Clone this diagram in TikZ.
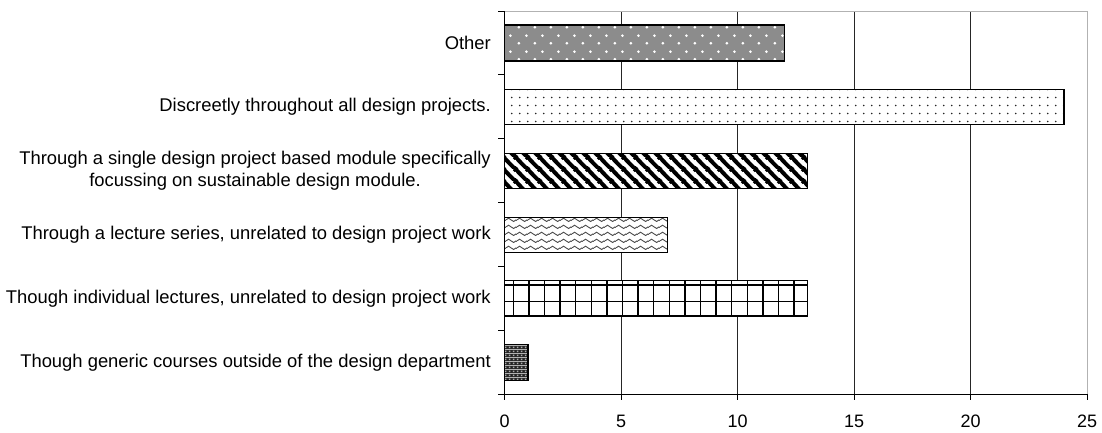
\documentclass[tikz,border=0pt]{standalone}
\usepackage{fontspec}
\setmainfont{Liberation Sans}
\usetikzlibrary{patterns.meta}

\tikzdeclarepattern{
  name=whitedots, type=colored,
  bottom left={(0pt,0pt)}, top right={(15.6pt,15.4pt)}, tile size={(15.6pt,15.4pt)},
  code={\fill[white] (3.9pt,3.85pt) circle (1.5pt); \fill[white] (11.7pt,11.55pt) circle (1.5pt);}
}
\tikzdeclarepattern{
  name=sparsedots, type=colored,
  bottom left={(0pt,0pt)}, top right={(8.2pt,7.5pt)}, tile size={(8.2pt,7.5pt)},
  code={\fill[black!85] (4.1pt,3.75pt) circle (0.95pt);}
}
\tikzdeclarepattern{
  name=diagstripes, type=colored,
  bottom left={(0pt,0pt)}, top right={(12pt,12pt)}, tile size={(12pt,12pt)},
  code={\draw[black, line width=4.2pt] (-1pt,13pt) -- (13pt,-1pt) (-1pt,1pt) -- (1pt,-1pt) (11pt,13pt) -- (13pt,11pt);}
}
\tikzdeclarepattern{
  name=waves, type=colored,
  bottom left={(0pt,0pt)}, top right={(11pt,7pt)}, tile size={(11pt,7pt)},
  code={\draw[black!70, line width=1pt] (0pt,3.5pt) sin (2.75pt,5.3pt) cos (5.5pt,3.5pt) sin (8.25pt,1.7pt) cos (11pt,3.5pt);}
}
\tikzdeclarepattern{
  name=darkgrid, type=colored,
  bottom left={(0pt,0pt)}, top right={(4pt,4pt)}, tile size={(4pt,4pt)},
  code={\fill[black!85] (0pt,0pt) rectangle (4pt,4pt); \fill[gray!65] (1pt,1pt) rectangle (3pt,3pt);}
}

\begin{document}
\begin{tikzpicture}[x=1pt,y=-1pt,
  lab/.style={font=\fontsize{18.4}{22}\selectfont, align=center, anchor=east, inner sep=0pt},
  tl/.style={font=\fontsize{18}{22}\selectfont, anchor=center, inner sep=0pt},
  bar/.style={draw=black, line width=1.3pt},
  grid/.style={draw=black!85, line width=0.8pt},
  frame/.style={draw=gray!60, line width=1pt},
  axis/.style={draw=black, line width=1pt}]
\useasboundingbox (0,0) rectangle (1102,432);

% grid lines and frame
\foreach \gx in {621.2,737.7,854.2,970.7} \draw[grid] (\gx,11) -- (\gx,394.3);
\draw[frame] (504.7,11) -- (1087.2,11) -- (1087.2,394.3);

% bars
\fill[black!45] (504.7,25) rectangle (784.3,61);
\fill[pattern=whitedots] (504.7,25) rectangle (784.3,61);
\draw[bar] (504.7,25) rectangle (784.3,61);

\fill[white] (504.7,89.3) rectangle (1063.9,124.3);
\fill[pattern=sparsedots] (504.7,89.3) rectangle (1063.9,124.3);
\draw[bar] (504.7,89.3) rectangle (1063.9,124.3);

\fill[white] (504.7,153.3) rectangle (807.6,188.7);
\fill[pattern=diagstripes] (504.7,153.3) rectangle (807.6,188.7);
\draw[bar] (504.7,153.3) rectangle (807.6,188.7);

\fill[white] (504.7,217.3) rectangle (667.8,252.3);
\fill[pattern=waves] (504.7,217.3) rectangle (667.8,252.3);
\draw[bar] (504.7,217.3) rectangle (667.8,252.3);

\begin{scope}
\clip (504.7,280.7) rectangle (807.6,316);
\fill[white] (504.7,280.7) rectangle (807.6,316);
\foreach \k in {0,...,18} \draw[line width=1.4pt] ({513.3+15.6*\k},270) -- ++(0,60);
\foreach \yy in {285,301.7} \draw[line width=1.4pt] (500,\yy) -- (810,\yy);
\end{scope}
\draw[bar] (504.7,280.7) rectangle (807.6,316);

\fill[pattern=darkgrid] (504.7,344.3) rectangle (528,380.7);
\draw[bar] (504.7,344.3) rectangle (528,380.7);

% axes
\draw[axis] (504.7,11) -- (504.7,394.3);
\draw[axis] (498,394.3) -- (1087.2,394.3);
\foreach \ty in {11,74.9,138.8,202.6,266.5,330.4} \draw[axis] (498,\ty) -- (504.7,\ty);
\foreach \gx in {504.7,621.2,737.7,854.2,970.7,1087.2} \draw[axis] (\gx,394.3) -- (\gx,399.5);

% category labels
\node[lab] (l1) at (491,42.9) {Other};
\node[lab] (l2) at (491,106.8) {Discreetly throughout all design projects.};
\node[lab] (l3) at (491,170.7) {Through a single design project based module specifically\\focussing on sustainable design module.};
\node[lab] (l4) at (491,234.6) {Through a lecture series, unrelated to design project work};
\node[lab] (l5) at (491,298.5) {Though individual lectures, unrelated to design project work};
\node[lab] (l6) at (491,362.4) {Though generic courses outside of the design department};

% tick labels
\node[tl] (t0) at (504.7,421) {0};
\node[tl] (t5) at (621.2,421) {5};
\node[tl] (t10) at (737.7,421) {10};
\node[tl] (t15) at (854.2,421) {15};
\node[tl] (t20) at (970.7,421) {20};
\node[tl] (t25) at (1087.2,421) {25};
\end{tikzpicture}
\end{document}
